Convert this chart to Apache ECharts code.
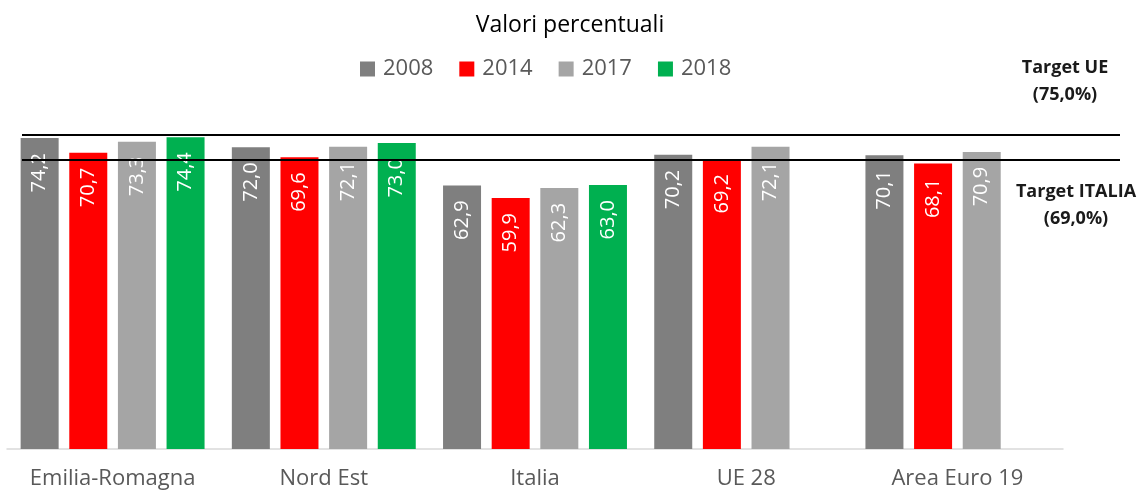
<!DOCTYPE html>
<html>
<head>
<meta charset="utf-8">
<script src="https://cdn.jsdelivr.net/npm/echarts@6/dist/echarts.min.js"></script>
<style>
  html, body { margin: 0; padding: 0; background: #fff; }
  #main { width: 1139px; height: 493px; }
</style>
</head>
<body>
<div id="main"></div>
<script>
// dati
const categories = ['Emilia-Romagna', 'Nord Est', 'Italia', 'UE 28', 'Area Euro 19']
const years = ['2008', '2014', '2017', '2018']
const v2008 = [74.2, 72.0, 62.9, 70.2, 70.1]
const v2014 = [70.7, 69.6, 59.9, 69.2, 68.1]
const v2017 = [73.3, 72.1, 62.3, 72.1, 70.9]
const v2018 = [74.4, 73.0, 63.0, null, null]
const targetUE = 75
const targetItalia = 69

const colors = ['#7f7f7f', '#ff0000', '#a5a5a5', '#00b050']
const font = '"Open Sans", "Noto Sans", sans-serif'

const chart = echarts.init(document.getElementById('main'))

const barSeries = [v2008, v2014, v2017, v2018].map((vals, i) => ({
  name: years[i],
  type: 'bar',
  xAxisIndex: 0,
  yAxisIndex: 0,
  data: vals,
  barWidth: 38,
  barGap: '28%',
  itemStyle: { color: colors[i] },
  label: {
    show: true,
    position: 'insideTop',
    rotate: 90,
    align: 'right',
    verticalAlign: 'middle',
    distance: 5,
    offset: [-10, 0],
    color: '#fff',
    fontSize: 20,
    fontFamily: font,
    formatter: p => p.value.toFixed(1).replace('.', ',')
  }
}))

const option = {
  animation: false,
  color: colors,
  title: {
    text: 'Valori percentuali',
    left: 565,
    textAlign: 'center',
    top: 9,
    textStyle: { fontSize: 23, fontWeight: 'normal', color: '#000', fontFamily: font }
  },
  legend: {
    data: years,
    top: 53,
    left: 355,
    itemWidth: 15,
    itemHeight: 15,
    itemGap: 26,
    icon: 'rect',
    textStyle: { fontSize: 22, color: '#595959', fontFamily: font, padding: [0, 0, 0, 3] }
  },
  grid: [
    { left: 7, right: 76, top: 134.7, bottom: 44 },
    // griglia per le linee di target (più larga del grafico)
    { left: 22, right: 19, top: 134.7, bottom: 44 }
  ],
  xAxis: [
    {
      type: 'category',
      gridIndex: 0,
      data: categories,
      axisTick: { show: false },
      axisLine: { lineStyle: { color: '#d9d9d9', width: 1.5 } },
      axisLabel: { interval: 0, fontSize: 22, color: '#595959', fontFamily: font, margin: 19 }
    },
    { type: 'category', gridIndex: 1, data: ['a'], show: false }
  ],
  yAxis: [
    { type: 'value', gridIndex: 0, min: 0, max: 75, show: false },
    { type: 'value', gridIndex: 1, min: 0, max: 75, show: false }
  ],
  graphic: [
    {
      type: 'text', x: 1065, y: 59,
      style: { text: 'Target UE', align: 'center', fontSize: 18, fontWeight: 'bold', fill: '#1a1a1a', fontFamily: font }
    },
    {
      type: 'text', x: 1065, y: 86,
      style: { text: '(75,0%)', align: 'center', fontSize: 18, fontWeight: 'bold', fill: '#1a1a1a', fontFamily: font }
    },
    {
      type: 'text', x: 1076, y: 183,
      style: { text: 'Target ITALIA', align: 'center', fontSize: 18, fontWeight: 'bold', fill: '#1a1a1a', fontFamily: font }
    },
    {
      type: 'text', x: 1076, y: 210,
      style: { text: '(69,0%)', align: 'center', fontSize: 18, fontWeight: 'bold', fill: '#1a1a1a', fontFamily: font }
    }
  ],
  series: [
    {
      name: 'target',
      type: 'line',
      xAxisIndex: 1,
      yAxisIndex: 1,
      data: [null],
      silent: true,
      z: 1,
      markLine: {
        silent: true,
        symbol: ['none', 'none'],
        label: { show: false },
        lineStyle: { color: '#000', width: 2, type: 'solid' },
        data: [{ yAxis: targetUE }, { yAxis: targetItalia }]
      }
    },
    ...barSeries
  ]
}

chart.setOption(option)
</script>
</body>
</html>
